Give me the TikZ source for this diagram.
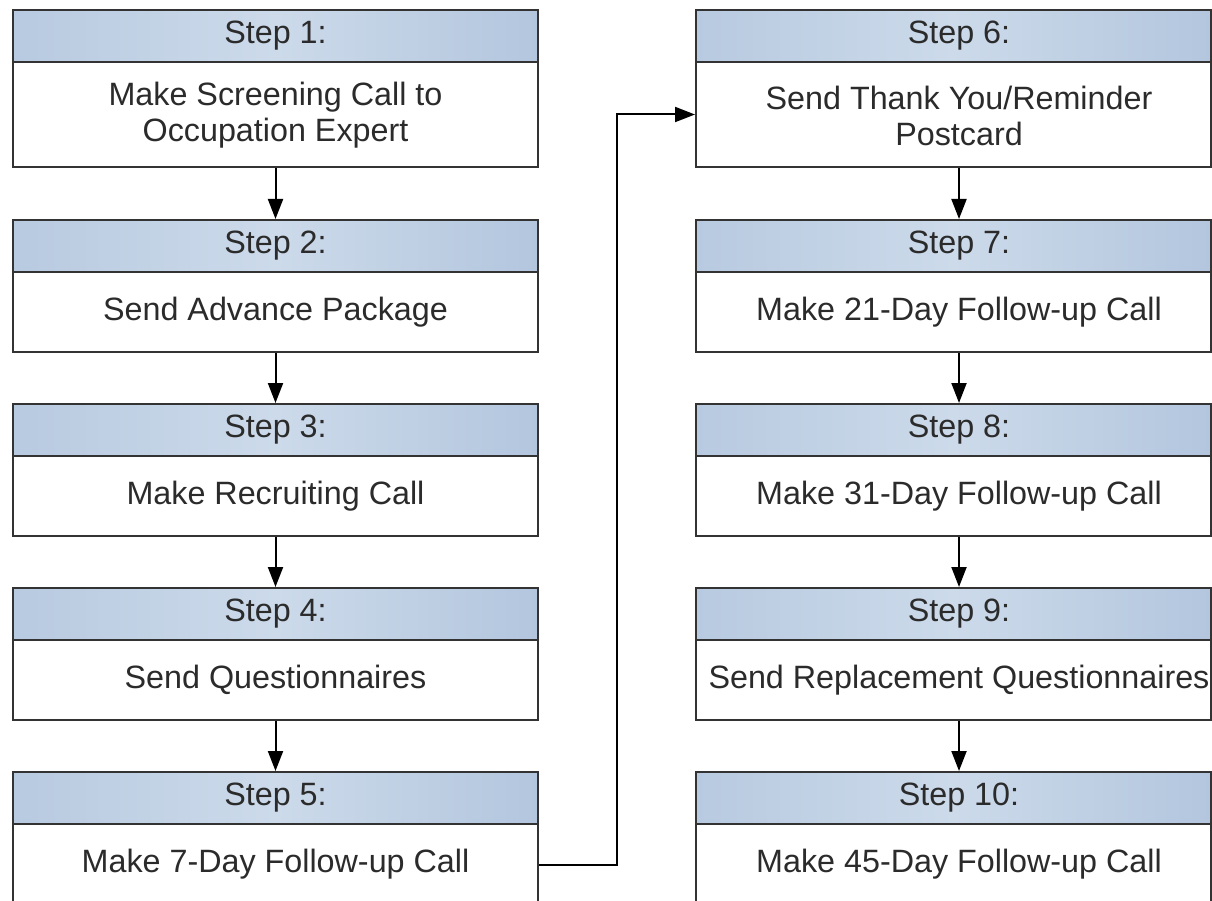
\documentclass[tikz,border=0pt]{standalone}
\usepackage{fontspec}
\setmainfont{Liberation Sans}
\usetikzlibrary{arrows.meta}
\definecolor{hdrL}{HTML}{CCDAEA}
\definecolor{hdrR}{HTML}{B3C6DE}
\definecolor{edge}{HTML}{333333}
\definecolor{ink}{HTML}{2B2B2B}
\tikzset{
  hdr/.style={draw=edge, line width=2pt, left color=hdrR!80!hdrL, right color=hdrR, middle color=hdrL, minimum height=52pt, inner sep=0pt},
  bodybox/.style={draw=edge, line width=2pt, fill=white, inner sep=0pt},
  txt/.style={text=ink, font=\fontsize{32.3}{36}\selectfont, align=center, inner sep=0pt},
  conn/.style={draw=black, line width=2pt, -{Triangle[length=20pt,width=15pt]}},
}
\begin{document}
\begin{tikzpicture}[x=1pt,y=-1pt]
\useasboundingbox (0,0) rectangle (1212,901);
\clip (0,0) rectangle (1212,901);
\fill[white] (0,0) rectangle (1212,901);
% left column
\node[hdr, minimum width=525pt] (h1) at (275.5,36) {};
\node[bodybox, minimum width=525pt, minimum height=105pt] (b1) at (275.5,114.5) {};
\node[hdr, minimum width=525pt] (h2) at (275.5,246) {};
\node[bodybox, minimum width=525pt, minimum height=80pt] (b2) at (275.5,312) {};
\node[hdr, minimum width=525pt] (h3) at (275.5,430) {};
\node[bodybox, minimum width=525pt, minimum height=80pt] (b3) at (275.5,496) {};
\node[hdr, minimum width=525pt] (h4) at (275.5,614) {};
\node[bodybox, minimum width=525pt, minimum height=80pt] (b4) at (275.5,680) {};
\node[hdr, minimum width=525pt] (h5) at (275.5,798) {};
\node[bodybox, minimum width=525pt, minimum height=81pt] (b5) at (275.5,864.5) {};
% right column
\node[hdr, minimum width=515pt] (h6) at (953.5,36) {};
\node[bodybox, minimum width=515pt, minimum height=105pt] (b6) at (953.5,114.5) {};
\node[hdr, minimum width=515pt] (h7) at (953.5,246) {};
\node[bodybox, minimum width=515pt, minimum height=80pt] (b7) at (953.5,312) {};
\node[hdr, minimum width=515pt] (h8) at (953.5,430) {};
\node[bodybox, minimum width=515pt, minimum height=80pt] (b8) at (953.5,496) {};
\node[hdr, minimum width=515pt] (h9) at (953.5,614) {};
\node[bodybox, minimum width=515pt, minimum height=80pt] (b9) at (953.5,680) {};
\node[hdr, minimum width=515pt] (h10) at (953.5,798) {};
\node[bodybox, minimum width=515pt, minimum height=81pt] (b10) at (953.5,864.5) {};
% texts
\node[txt] (th1) at (275.5,36) {Step 1:};
\node[txt] (tb1) at (275.5,115.5) {Make Screening Call to\\Occupation Expert};
\node[txt] (th2) at (275.5,246) {Step 2:};
\node[txt] (tb2) at (275.5,312) {Send Advance Package};
\node[txt] (th3) at (275.5,430) {Step 3:};
\node[txt] (tb3) at (275.5,496) {Make Recruiting Call};
\node[txt] (th4) at (275.5,614) {Step 4:};
\node[txt] (tb4) at (275.5,680) {Send Questionnaires};
\node[txt] (th5) at (275.5,798) {Step 5:};
\node[txt] (tb5) at (275.5,864.5) {Make 7-Day Follow-up Call};
\node[txt] (th6) at (959,36) {Step 6:};
\node[txt] (tb6) at (959,115.5) {Send Thank You/Reminder\\Postcard};
\node[txt] (th7) at (959,246) {Step 7:};
\node[txt] (tb7) at (959,312) {Make 21-Day Follow-up Call};
\node[txt] (th8) at (959,430) {Step 8:};
\node[txt] (tb8) at (959,496) {Make 31-Day Follow-up Call};
\node[txt] (th9) at (959,614) {Step 9:};
\node[txt] (tb9) at (959,680) {Send Replacement Questionnaires};
\node[txt] (th10) at (959,798) {Step 10:};
\node[txt] (tb10) at (959,864.5) {Make 45-Day Follow-up Call};
% connectors
\draw[conn] (b1.south) -- (h2.north);
\draw[conn] (b2.south) -- (h3.north);
\draw[conn] (b3.south) -- (h4.north);
\draw[conn] (b4.south) -- (h5.north);
\draw[conn] ([xshift=5.5pt]b6.south) -- ([xshift=5.5pt]h7.north);
\draw[conn] ([xshift=5.5pt]b7.south) -- ([xshift=5.5pt]h8.north);
\draw[conn] ([xshift=5.5pt]b8.south) -- ([xshift=5.5pt]h9.north);
\draw[conn] ([xshift=5.5pt]b9.south) -- ([xshift=5.5pt]h10.north);
\draw[conn] (b5.east) -- ++(78,0) |- (b6.west);
\end{tikzpicture}
\end{document}
